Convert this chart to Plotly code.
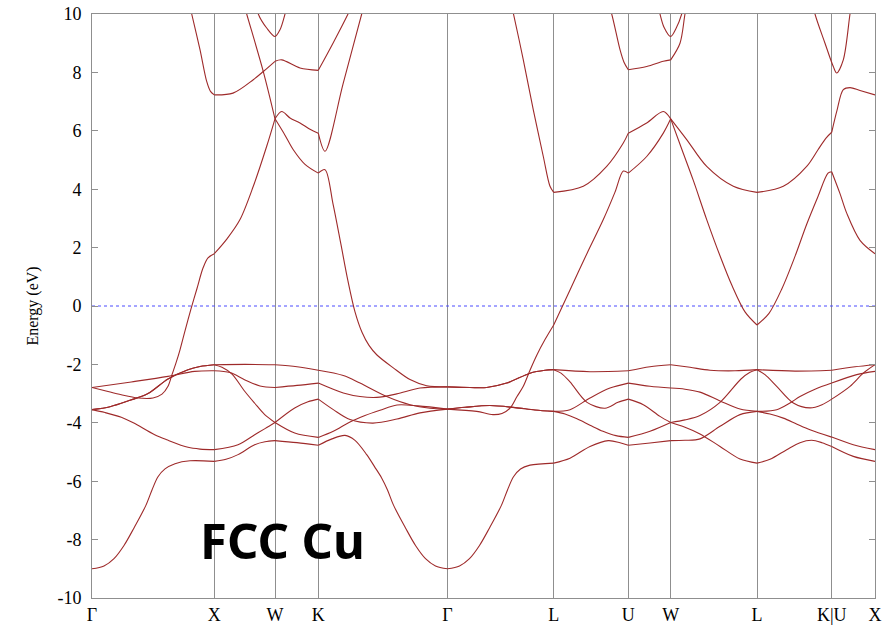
import plotly.graph_objects as go

# High-symmetry points along the FCC Brillouin-zone path (path coordinate)
KPT_LABELS = ["Γ", "X", "W", "K", "Γ", "L", "U", "W", "L", "K|U", "X"]
KPT_POS = [0.000, 1.223, 1.830, 2.263, 3.555, 4.617, 5.363, 5.787, 6.650, 7.397, 7.830]

E_TICKS = [-10, -8, -6, -4, -2, 0, 2, 4, 6, 8, 10]
E_TICK_TEXT = ["-10", "-8", "-6", "-4", "-2", "0", "2", "4", "6", "8", "10"]
E_FERMI = 0.0

# ---- band energies (eV) sampled along the path ----
band_01_k = [0.000, 0.12, 0.22, 0.32, 0.42, 0.54, 0.60, 0.66, 0.73, 0.83, 0.98, 1.223,
             1.34, 1.46, 1.627, 1.73, 1.83,
             2.05, 2.263,
             2.40, 2.53, 2.63, 2.747, 2.825, 2.895, 2.955, 3.015, 3.135, 3.235, 3.335, 3.435, 3.555,
             3.675, 3.775, 3.875, 3.975, 4.095, 4.155, 4.215, 4.285, 4.38, 4.617,
             4.78, 4.98, 5.163, 5.28, 5.363,
             5.58, 5.787,
             5.93, 6.08, 6.28, 6.48, 6.65,
             6.78, 6.913, 7.05, 7.18, 7.397,
             7.613, 7.83]
band_01_e = [-9.0, -8.9, -8.65, -8.2, -7.6, -6.82, -6.3, -5.85, -5.58, -5.4, -5.3, -5.32,
             -5.25, -5.09, -4.75, -4.65, -4.61,
             -4.68, -4.77,
             -4.55, -4.43, -4.6, -5.09, -5.5, -5.88, -6.3, -6.82, -7.6, -8.2, -8.65, -8.9, -9.0,
             -8.9, -8.65, -8.2, -7.6, -6.82, -6.3, -5.85, -5.58, -5.45, -5.38,
             -5.21, -4.81, -4.61, -4.68, -4.77,
             -4.69, -4.61,
             -4.6, -4.55, -4.12, -3.72, -3.61,
             -3.7, -3.84, -4.05, -4.24, -4.49,
             -4.75, -4.92]

band_02_k = [0.000, 0.13, 0.293, 0.413, 0.627, 0.747, 0.96, 1.08, 1.223,
             1.46, 1.627, 1.73, 1.83,
             2.027, 2.16, 2.263,
             2.413, 2.58, 2.81, 3.05, 3.28, 3.555,
             3.73, 3.98, 4.23, 4.43, 4.617,
             4.73, 4.85, 4.98, 5.11, 5.24, 5.363,
             5.58, 5.787,
             5.93, 6.08, 6.28, 6.49, 6.58, 6.65,
             6.73, 6.847, 7.013, 7.18, 7.30, 7.397,
             7.58, 7.713, 7.83]
band_02_e = [-3.55, -3.65, -3.81, -4.0, -4.41, -4.58, -4.84, -4.9, -4.92,
             -4.75, -4.41, -4.2, -3.99,
             -3.49, -3.28, -3.19,
             -3.55, -3.89, -4.01, -3.87, -3.66, -3.53,
             -3.47, -3.41, -3.48, -3.56, -3.61,
             -3.7, -3.86, -4.08, -4.29, -4.44, -4.5,
             -4.29, -3.99,
             -3.9, -3.75, -3.3, -2.5, -2.27, -2.18,
             -2.35, -2.75, -3.32, -3.49, -3.38, -3.19,
             -2.75, -2.3, -2.01]

band_03_k = [0.000, 0.18, 0.38, 0.56, 0.76, 0.96, 1.08, 1.223,
             1.30, 1.40, 1.527, 1.627, 1.727, 1.83,
             2.027, 2.263,
             2.413, 2.58, 2.73, 2.88, 3.05, 3.26, 3.555,
             3.73, 3.98, 4.23, 4.43, 4.617,
             4.78, 4.98, 5.18, 5.363,
             5.58, 5.787,
             5.93, 6.08, 6.28, 6.48, 6.65,
             6.847, 6.98, 7.08, 7.23, 7.397,
             7.647, 7.83]
band_03_e = [-3.55, -3.45, -3.23, -3.0, -2.5, -2.18, -2.07, -2.01,
             -2.1, -2.33, -2.92, -3.33, -3.72, -3.99,
             -4.35, -4.5,
             -4.29, -3.97, -3.75, -3.57, -3.39, -3.42, -3.53,
             -3.47, -3.41, -3.48, -3.56, -3.61,
             -3.55, -3.15, -2.81, -2.64,
             -2.75, -2.81,
             -2.85, -2.95, -3.25, -3.53, -3.61,
             -3.55, -3.32, -3.1, -2.85, -2.64,
             -2.35, -2.24]

band_04_k = [0.000, 0.18, 0.38, 0.56, 0.76, 0.96, 1.08, 1.223,
             1.53, 1.83,
             2.05, 2.263,
             2.513, 2.68, 2.947, 3.18, 3.38, 3.555,
             3.847, 4.01, 4.10, 4.18, 4.25, 4.313, 4.38, 4.45, 4.53, 4.617,
             4.78, 4.95, 5.113, 5.23, 5.313, 5.363,
             5.547, 5.713, 5.787,
             5.90, 6.013, 6.147, 6.28, 6.40, 6.53, 6.65,
             6.77, 6.90, 7.03, 7.147, 7.26, 7.36, 7.397,
             7.48, 7.547, 7.68, 7.83]
band_04_e = [-3.55, -3.45, -3.23, -3.0, -2.5, -2.18, -2.07, -2.01,
             -2.0, -2.01,
             -2.08, -2.2,
             -2.38, -2.64, -3.1, -3.38, -3.5, -3.53,
             -3.61, -3.72, -3.68, -3.5, -3.1, -2.75, -2.2, -1.67, -1.15, -0.65,
             0.55, 1.8, 2.96, 3.9, 4.62, 4.55,
             5.12, 5.92, 6.41,
             5.35, 4.3, 2.96, 1.72, 0.7, -0.2, -0.65,
             -0.25, 0.6, 1.7, 2.8, 3.75, 4.55, 4.6,
             3.85, 3.18, 2.25, 1.79]

band_05_k = [0.000, 0.393, 0.76, 1.027, 1.223,
             1.38, 1.53, 1.68, 1.83,
             2.05, 2.263,
             2.513, 2.68, 2.847, 3.047, 3.28, 3.555,
             3.78, 3.947, 4.147, 4.38, 4.53, 4.617,
             4.98, 5.363,
             5.58, 5.787,
             5.98, 6.18, 6.43, 6.65,
             7.03, 7.397,
             7.63, 7.83]
band_05_e = [-2.79, -2.6, -2.41, -2.24, -2.22,
             -2.28, -2.53, -2.74, -2.79,
             -2.72, -2.64,
             -2.98, -3.1, -3.13, -3.01, -2.81, -2.77,
             -2.79, -2.79, -2.64, -2.3, -2.2, -2.18,
             -2.25, -2.22,
             -2.08, -2.01,
             -2.1, -2.2, -2.22, -2.18,
             -2.23, -2.2,
             -2.08, -2.01]

band_06_k = [0.000, 0.13, 0.293, 0.46, 0.61, 0.70, 0.76, 0.80, 0.84, 0.88, 0.93, 0.99, 1.05, 1.11, 1.16, 1.223,
             1.35, 1.48, 1.613, 1.747, 1.83,
             1.897, 1.98, 2.08, 2.18, 2.263,
             2.33, 2.51, 2.697, 2.74]
band_06_e = [-2.79, -2.9, -3.04, -3.15, -3.15, -3.02, -2.75, -2.35, -1.95, -1.5, -0.85, -0.1, 0.6, 1.3, 1.65, 1.79,
             2.3, 2.96, 4.1, 5.47, 6.41,
             6.66, 6.44, 6.27, 6.05, 5.92,
             5.3, 7.6, 10.0, 10.55]

band_07_k = [1.51, 1.547, 1.713, 1.83,
             1.93, 2.013, 2.13, 2.263,
             2.33, 2.41, 2.49, 2.56, 2.63, 2.70, 2.77, 2.847, 3.013, 3.18, 3.347, 3.555,
             3.78, 3.947, 4.147, 4.38, 4.53, 4.617,
             4.69, 4.78, 4.95, 5.13, 5.26, 5.363,
             5.513, 5.68, 5.787,
             5.93, 6.08, 6.28, 6.48, 6.65,
             6.78, 6.947, 7.08, 7.197, 7.30, 7.397,
             7.613, 7.83]
band_07_e = [10.45, 10.0, 8.03, 6.41,
             5.85, 5.35, 4.85, 4.55,
             4.67, 3.5, 2.1, 0.85, -0.2, -0.9, -1.35, -1.67, -2.12, -2.52, -2.73, -2.77,
             -2.79, -2.79, -2.64, -2.3, -2.2, -2.18,
             -2.3, -2.6, -3.3, -3.5, -3.3, -3.19,
             -3.38, -3.78, -3.99,
             -4.15, -4.38, -4.81, -5.24, -5.38,
             -5.25, -4.92, -4.68, -4.6, -4.68, -4.81,
             -5.15, -5.32]

band_08_k = [0.96, 0.997, 1.08, 1.147, 1.185, 1.223,
             1.41, 1.613, 1.713, 1.83,
             1.897, 2.08, 2.263,
             2.41, 2.56, 2.60]
band_08_e = [10.6, 10.0, 8.78, 7.69, 7.35, 7.23,
             7.29, 7.75, 8.03, 8.38,
             8.43, 8.15, 8.07,
             9.0, 10.0, 10.3]

band_09_k = [1.64, 1.663, 1.747, 1.83, 1.88, 1.93, 1.95]
band_09_e = [10.4, 10.0, 9.52, 9.23, 9.46, 10.0, 10.3]

band_10_k = [4.18, 4.213, 4.313, 4.413, 4.513, 4.58, 4.617,
             4.913, 5.147, 5.313, 5.363,
             5.547, 5.713, 5.787,
             5.947, 6.147, 6.413, 6.65,
             6.913, 7.147, 7.26, 7.34, 7.397,
             7.45, 7.513, 7.58, 7.68, 7.83]
band_10_e = [10.5, 10.03, 8.43, 6.72, 5.12, 4.1, 3.89,
             4.1, 4.78, 5.58, 5.92,
             6.27, 6.66, 6.41,
             5.7, 4.78, 4.1, 3.89,
             4.1, 4.78, 5.35, 5.75, 5.95,
             6.7, 7.41, 7.48, 7.38, 7.23]

band_11_k = [5.14, 5.197, 5.28, 5.32, 5.363,
             5.547, 5.713, 5.787,
             5.88, 5.93, 5.96]
band_11_e = [10.6, 10.0, 8.78, 8.35, 8.09,
             8.2, 8.38, 8.43,
             9.0, 10.0, 10.5]

band_12_k = [5.65, 5.68, 5.72, 5.787, 5.84, 5.897, 5.92]
band_12_e = [10.45, 10.0, 9.55, 9.23, 9.5, 10.0, 10.35]

band_13_k = [7.20, 7.23, 7.33, 7.413, 7.447, 7.513, 7.58, 7.60]
band_13_e = [10.5, 10.0, 9.0, 8.2, 7.98, 8.43, 10.0, 10.4]

BAND_COLOR = "#9e2a2a"
AXIS_GRAY = "#8f8f8f"
SERIF = "Liberation Serif, Times New Roman, serif"

# (k, E, break the curve at high-symmetry points?)
bands = [
    (band_01_k, band_01_e, True),
    (band_02_k, band_02_e, True),
    (band_03_k, band_03_e, True),
    (band_04_k, band_04_e, True),
    (band_05_k, band_05_e, True),
    (band_06_k, band_06_e, True),
    (band_07_k, band_07_e, True),
    (band_08_k, band_08_e, True),
    (band_09_k, band_09_e, False),
    (band_10_k, band_10_e, True),
    (band_11_k, band_11_e, True),
    (band_12_k, band_12_e, False),
    (band_13_k, band_13_e, True),
]


def split_at_kpoints(ks, es):
    """Cut a band into pieces at the high-symmetry points so kinks stay sharp."""
    pieces, ck, ce = [], [ks[0]], [es[0]]
    for k, e in zip(ks[1:], es[1:]):
        ck.append(k)
        ce.append(e)
        if any(abs(k - p) < 1e-9 for p in KPT_POS):
            pieces.append((ck, ce))
            ck, ce = [k], [e]
    if len(ck) > 1:
        pieces.append((ck, ce))
    return pieces


fig = go.Figure()

# Fermi level
fig.add_trace(go.Scatter(
    x=[KPT_POS[0], KPT_POS[-1]], y=[E_FERMI, E_FERMI], mode="lines",
    line=dict(color="#4a4aff", width=1, dash="dot"),
    hoverinfo="skip", showlegend=False,
))

for ks, es, brk in bands:
    segs = split_at_kpoints(ks, es) if brk else [(ks, es)]
    for sk, se in segs:
        fig.add_trace(go.Scatter(
            x=sk, y=se, mode="lines",
            line=dict(color=BAND_COLOR, width=1.1, shape="spline", smoothing=0.9),
            hoverinfo="skip", showlegend=False,
        ))

fig.add_annotation(
    text="<b>FCC Cu</b>", x=1.90, y=-8.0, xref="x", yref="y",
    xanchor="center", yanchor="middle", showarrow=False,
    font=dict(family="Noto Sans", size=49, color="black"),
)

fig.update_layout(
    width=892, height=625,
    margin=dict(l=92, r=17, t=14, b=27),
    paper_bgcolor="white", plot_bgcolor="white",
    showlegend=False,
    font=dict(family=SERIF, size=18, color="black"),
    xaxis=dict(
        range=[KPT_POS[0], KPT_POS[-1]], automargin=False,
        tickmode="array", tickvals=KPT_POS, ticktext=KPT_LABELS,
        showgrid=True, gridcolor=AXIS_GRAY, gridwidth=1,
        showline=True, linecolor=AXIS_GRAY, linewidth=1, mirror=True,
        ticks="", zeroline=False,
        tickfont=dict(family=SERIF, size=18, color="black"),
    ),
    yaxis=dict(
        range=[-10, 10], automargin=False,
        tickmode="array", tickvals=E_TICKS, ticktext=E_TICK_TEXT,
        showgrid=False, zeroline=False,
        showline=True, linecolor=AXIS_GRAY, linewidth=1, mirror="ticks",
        ticks="inside", ticklen=6, tickcolor=AXIS_GRAY,
        ticklabelstandoff=6,
        tickfont=dict(family=SERIF, size=18, color="black"),
        title=dict(text="Energy (eV)", font=dict(family=SERIF, size=16, color="black"), standoff=14),
    ),
)

fig.write_html("out.html")
